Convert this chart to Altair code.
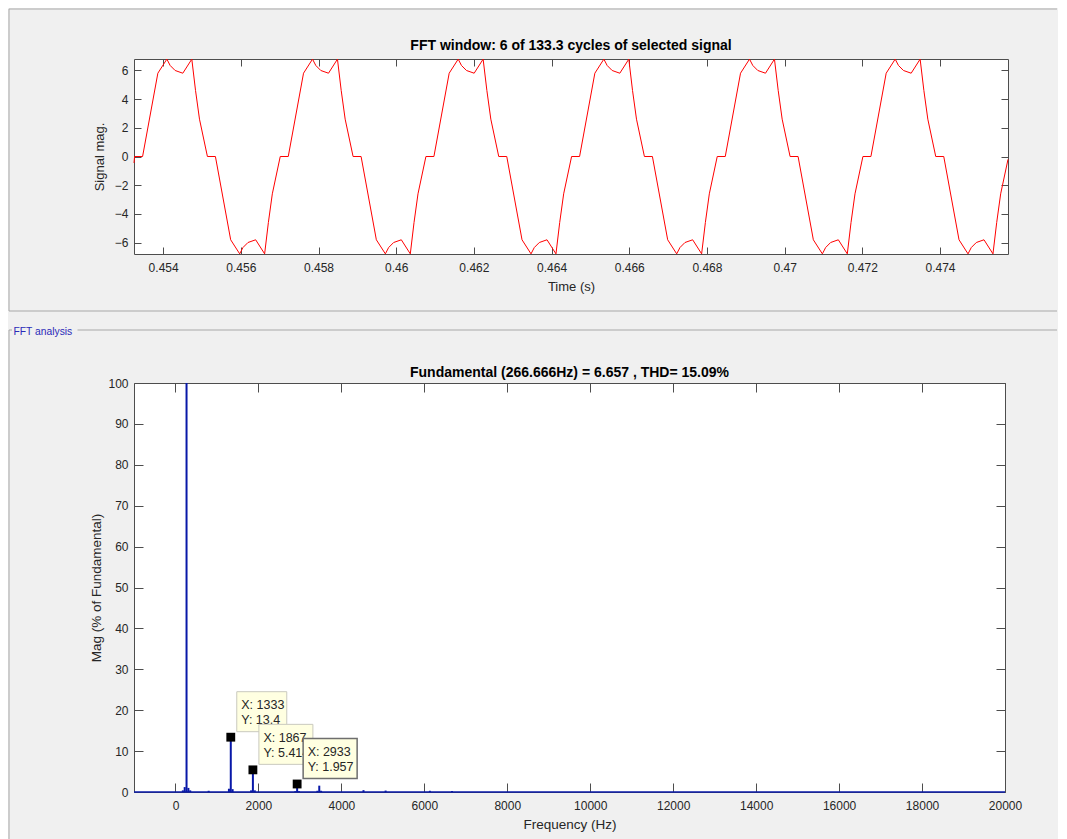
import altair as alt
import pandas as pd

# ---------------- data ----------------
SIG_T = [
    0.45325,
    0.453265, 0.453471, 0.453864, 0.454096, 0.454180, 0.454309, 0.454507, 0.454738, 0.454834, 0.454936,
    0.455140, 0.455346, 0.455739, 0.455971, 0.456055, 0.456184, 0.456382, 0.456613, 0.456709, 0.456811,
    0.457015, 0.457221, 0.457614, 0.457846, 0.457930, 0.458059, 0.458257, 0.458488, 0.458584, 0.458686,
    0.458890, 0.459096, 0.459489, 0.459721, 0.459805, 0.459934, 0.460132, 0.460363, 0.460459, 0.460561,
    0.460765, 0.460971, 0.461364, 0.461596, 0.461680, 0.461809, 0.462007, 0.462238, 0.462334, 0.462436,
    0.462640, 0.462846, 0.463239, 0.463471, 0.463555, 0.463684, 0.463882, 0.464113, 0.464209, 0.464311,
    0.464515, 0.464721, 0.465114, 0.465346, 0.465430, 0.465559, 0.465757, 0.465988, 0.466084, 0.466186,
    0.466390, 0.466596, 0.466989, 0.467221, 0.467305, 0.467434, 0.467632, 0.467863, 0.467959, 0.468061,
    0.468265, 0.468471, 0.468864, 0.469096, 0.469180, 0.469309, 0.469507, 0.469738, 0.469834, 0.469936,
    0.470140, 0.470346, 0.470739, 0.470971, 0.471055, 0.471184, 0.471382, 0.471613, 0.471709, 0.471811,
    0.472015, 0.472221, 0.472614, 0.472846, 0.472930, 0.473059, 0.473257, 0.473488, 0.473584, 0.473686,
    0.473890, 0.474096, 0.474489, 0.474721, 0.474805, 0.474934, 0.475132, 0.475363, 0.475459, 0.475561,
    0.47575,
]
SIG_V = [
    -0.45,
    0, 0, 5.80, 6.78, 6.34, 5.99, 5.80, 6.78, 4.60, 2.60,
    0, 0, -5.80, -6.78, -6.34, -5.99, -5.80, -6.78, -4.60, -2.60,
    0, 0, 5.80, 6.78, 6.34, 5.99, 5.80, 6.78, 4.60, 2.60,
    0, 0, -5.80, -6.78, -6.34, -5.99, -5.80, -6.78, -4.60, -2.60,
    0, 0, 5.80, 6.78, 6.34, 5.99, 5.80, 6.78, 4.60, 2.60,
    0, 0, -5.80, -6.78, -6.34, -5.99, -5.80, -6.78, -4.60, -2.60,
    0, 0, 5.80, 6.78, 6.34, 5.99, 5.80, 6.78, 4.60, 2.60,
    0, 0, -5.80, -6.78, -6.34, -5.99, -5.80, -6.78, -4.60, -2.60,
    0, 0, 5.80, 6.78, 6.34, 5.99, 5.80, 6.78, 4.60, 2.60,
    0, 0, -5.80, -6.78, -6.34, -5.99, -5.80, -6.78, -4.60, -2.60,
    0, 0, 5.80, 6.78, 6.34, 5.99, 5.80, 6.78, 4.60, 2.60,
    0, 0, -5.80, -6.78, -6.34, -5.99, -5.80, -6.78, -4.60, -2.60,
    -0.2,
]
TIME_TICKS = [0.454, 0.456, 0.458, 0.460, 0.462, 0.464, 0.466, 0.468, 0.470, 0.472, 0.474]
SIG_TICKS = [-6, -4, -2, 0, 2, 4, 6]

FFT_F = [177.78, 222.22, 266.67, 311.11, 355.56, 800.0,
         1288.89, 1333.33, 1377.78, 1822.22, 1866.67, 1911.11,
         2888.89, 2933.33, 2977.78, 3422.22, 3466.67, 3511.11,
         4533.33, 5066.67, 6133.33, 6666.67]
FFT_M = [0.4, 1.2, 100.0, 1.0, 0.4, 0.3,
         0.8, 13.4, 0.7, 0.4, 5.414, 0.4,
         0.2, 1.957, 0.2, 0.3, 1.55, 0.3,
         0.45, 0.35, 0.3, 0.25]
FREQ_TICKS = [0, 2000, 4000, 6000, 8000, 10000, 12000, 14000, 16000, 18000, 20000]
MAG_TICKS = [0, 10, 20, 30, 40, 50, 60, 70, 80, 90, 100]

TIP_F = [1333.33, 1866.67, 2933.33]
TIP_M = [13.4, 5.414, 1.957]
TIP_X = ["X: 1333", "X: 1867", "X: 2933"]
TIP_Y = ["Y: 13.4", "Y: 5.414", "Y: 1.957"]

TOP_TITLE = "FFT window: 6 of 133.3 cycles of selected signal"
BOT_TITLE = "Fundamental (266.666Hz) = 6.657 , THD= 15.09%"

# ---------------- styling ----------------
FONT = "Liberation Sans"
AX = "#262626"
BOX = "#4D4D4D"
FRAME = "#A8A8A8"
BLUE = "#0818A8"

TW, TH = 874, 195
BW, BH = 871, 409

sig = pd.DataFrame({"t": SIG_T, "v": SIG_V})
fft = pd.DataFrame({"f": FFT_F, "m": FFT_M})
tips = pd.DataFrame({"f": TIP_F, "m": TIP_M,
                     "label": [a + "\n" + b for a, b in zip(TIP_X, TIP_Y)]})
one = pd.DataFrame({"k": [0]})

tx = alt.Scale(domain=[0.45325, 0.47575], nice=False, zero=False)
ty = alt.Scale(domain=[-6.79, 6.79], nice=False, zero=False)
fx = alt.Scale(domain=[-1000, 20000], nice=False, zero=False)
fy = alt.Scale(domain=[0, 100], nice=False, zero=False)


def ax_main(orient, values, title, fmt, lp, tp, tsz):
    return alt.Axis(orient=orient, values=values, title=title, format=fmt,
                    ticks=False, tickSize=0, domain=False, grid=False,
                    labelFont=FONT, labelFontSize=12, labelColor=AX,
                    labelPadding=lp, labelOverlap=False, labelFlush=False,
                    titleFont=FONT, titleFontSize=tsz, titleFontWeight="normal",
                    titleColor=AX, titlePadding=tp)


def ax_ticks(orient, values, offset, size):
    return alt.Axis(orient=orient, values=values, offset=offset, labels=False,
                    domain=False, grid=False, ticks=True, tickSize=size,
                    tickColor=BOX, tickWidth=1, title=None)


def hline(x1, x2, y):
    return alt.Chart(one).mark_rule(color=FRAME, strokeWidth=1).encode(
        x=alt.value(x1), x2=alt.value(x2), y=alt.value(y))


def vline(x, y1, y2):
    return alt.Chart(one).mark_rule(color=FRAME, strokeWidth=1).encode(
        x=alt.value(x), y=alt.value(y1), y2=alt.value(y2))


def title_text(text, x, y):
    return alt.Chart(one).mark_text(
        text=text, align="center", baseline="middle", font=FONT,
        fontSize=14, fontWeight="bold", color="black",
    ).encode(x=alt.value(x), y=alt.value(y))


# ---------------- top panel: signal ----------------
sig_line = alt.Chart(sig).mark_line(color="#FF0000", strokeWidth=1).encode(
    x=alt.X("t:Q", scale=tx, axis=ax_main("bottom", TIME_TICKS, "Time (s)", ".3~f", 8, 7, 13)),
    y=alt.Y("v:Q", scale=ty, axis=ax_main("left", SIG_TICKS, "Signal mag.", "d", 6, 8, 13)),
)
sig_ta = alt.Chart(sig).mark_line(opacity=0).encode(
    x=alt.X("t:Q", scale=tx, axis=ax_ticks("top", TIME_TICKS, -TH, 7)),
    y=alt.Y("v:Q", scale=ty, axis=ax_ticks("right", SIG_TICKS, -TW, 7)),
)
sig_tb = alt.Chart(sig).mark_line(opacity=0).encode(
    x=alt.X("t:Q", scale=tx, axis=ax_ticks("bottom", TIME_TICKS, -TH, 7)),
    y=alt.Y("v:Q", scale=ty, axis=ax_ticks("left", SIG_TICKS, -TW, 7)),
)

top = alt.layer(
    hline(-125, 923, -50), vline(-125, -50, 252), hline(-125, 923, 252),
    title_text(TOP_TITLE, TW / 2, -13),
    sig_line, sig_ta, sig_tb,
).properties(width=TW, height=TH)

# ---------------- bottom panel: FFT ----------------
baseline = alt.Chart(one).mark_rule(color=BLUE, strokeWidth=1.5).encode(
    x=alt.XDatum(-1000, scale=fx, axis=None), x2=alt.X2Datum(20000),
    y=alt.YDatum(0, scale=fy, axis=None),
)
stems = alt.Chart(fft).mark_rule(color=BLUE, strokeWidth=2).encode(
    x=alt.X("f:Q", scale=fx, axis=ax_main("bottom", FREQ_TICKS, "Frequency (Hz)", "d", 8, 6, 13.5)),
    y=alt.Y("m:Q", scale=fy, axis=ax_main("left", MAG_TICKS, "Mag (% of Fundamental)", "d", 6, 4, 13.5)),
    y2=alt.Y2Datum(0),
)
fft_ta = alt.Chart(fft).mark_point(opacity=0).encode(
    x=alt.X("f:Q", scale=fx, axis=ax_ticks("top", FREQ_TICKS, -BH, 9)),
    y=alt.Y("m:Q", scale=fy, axis=ax_ticks("right", MAG_TICKS, -BW, 9)),
)
fft_tb = alt.Chart(fft).mark_point(opacity=0).encode(
    x=alt.X("f:Q", scale=fx, axis=ax_ticks("bottom", FREQ_TICKS, -BH, 9)),
    y=alt.Y("m:Q", scale=fy, axis=ax_ticks("left", MAG_TICKS, -BW, 9)),
)
markers = alt.Chart(tips).mark_square(size=78, color="black", opacity=1).encode(
    x=alt.X("f:Q", scale=fx, axis=None),
    y=alt.Y("m:Q", scale=fy, axis=None),
)

tip_layers = []
widths = [50, 54, 54]
borders = ["#C9C9BE", "#C9C9BE", "#6E6E6E"]
bwidth = [1, 1, 1.5]
for i in range(len(TIP_F)):
    d = tips.iloc[[i]]
    box = alt.Chart(d).mark_rect(
        fill="#FFFFE1", stroke=borders[i], strokeWidth=bwidth[i],
        xOffset=6, x2Offset=6 + widths[i], yOffset=-45.5, y2Offset=-5.5,
    ).encode(
        x=alt.X("f:Q", scale=fx, axis=None), x2=alt.X2("f:Q"),
        y=alt.Y("m:Q", scale=fy, axis=None), y2=alt.Y2("m:Q"),
    )
    txt = alt.Chart(d).mark_text(
        align="left", baseline="middle", xOffset=10.5, yOffset=-32,
        font=FONT, fontSize=12.5, color=AX, lineBreak="\n", lineHeight=15,
    ).encode(
        x=alt.X("f:Q", scale=fx, axis=None),
        y=alt.Y("m:Q", scale=fy, axis=None),
        text="label:N",
    )
    tip_layers += [box, txt]

fft_label = alt.Chart(one).mark_text(
    text="FFT analysis", align="left", baseline="middle", font=FONT,
    fontSize=10.3, color="#2A2AB8",
).encode(x=alt.value(-120.5), y=alt.value(-51.5))

bottom = alt.layer(
    hline(-125, -122, -53), hline(-56.5, 923, -53), vline(-125, -53, 456), fft_label,
    title_text(BOT_TITLE, BW / 2, -10),
    baseline, stems, fft_ta, fft_tb, markers, *tip_layers,
).properties(width=BW, height=BH)

chart = alt.vconcat(top, bottom, spacing=129, bounds="flush").properties(
    padding={"left": 0, "top": 0, "right": 0, "bottom": 0},
).configure(
    background="#F0F0F0", font=FONT,
).configure_view(
    stroke=BOX, strokeWidth=1, fill="white",
)

chart.save("out.html", embed_options={"renderer": "svg", "actions": False})
